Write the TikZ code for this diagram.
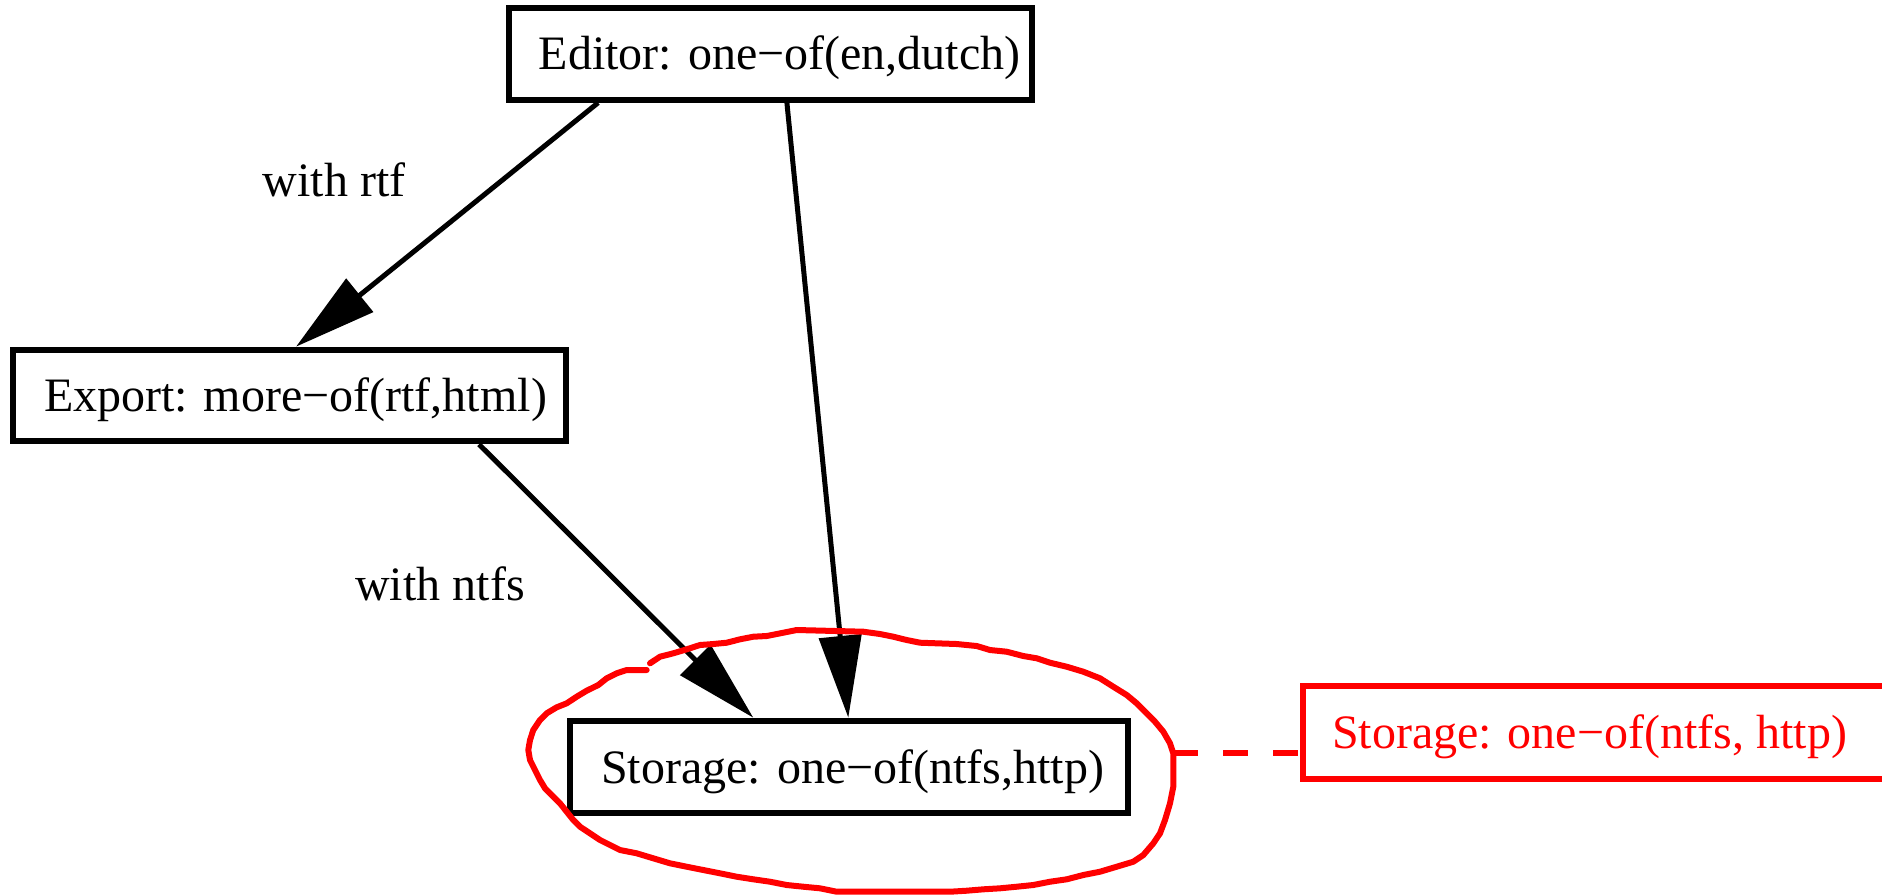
\documentclass[tikz,border=0pt]{standalone}
\usepackage{fontspec}
\setmainfont{Liberation Serif}
\usetikzlibrary{arrows.meta,calc}

\tikzset{
  diagfont/.style={font=\fontsize{24pt}{28pt}\selectfont},
  featbox/.style={draw=black, line width=3pt, inner xsep=0pt, inner ysep=0pt,
    text height=16pt, text depth=0pt, diagfont},
  notebox/.style={draw=red, text=red, line width=3pt, inner xsep=0pt, inner ysep=0pt,
    text height=16pt, text depth=0pt, diagfont},
  dep/.style={draw=black, line width=2.5pt, -{Triangle[length=41pt,width=21pt]}},
  edgelabel/.style={diagfont, inner sep=0pt},
  hull/.style={draw=red, line width=3pt, line join=round, line cap=round},
  notelink/.style={draw=red, line width=3pt, dash pattern=on 12.5pt off 12.5pt},
}
% fixed-width box content with a left indent
\newcommand{\padtext}[3]{\makebox[#1][l]{\hspace{#2}#3}}

\begin{document}
\begin{tikzpicture}[x=0.5pt,y=-0.5pt]
  \useasboundingbox (0,0) rectangle (1882,895);
  \clip (0,0) rectangle (1882,895);

  % feature boxes
  \node[featbox, minimum height=45.85pt] (editor) at (770.1,53.9)
    {\padtext{261.4pt}{15pt}{Editor: one−of(en,dutch)}};
  \node[featbox, minimum height=45.8pt] (export) at (289.5,395.5)
    {\padtext{276.5pt}{15.5pt}{Export: more−of(rtf,html)}};
  \node[featbox, minimum height=46.3pt] (storage) at (849.2,767)
    {\padtext{278.9pt}{15.5pt}{Storage: one−of(ntfs,http)}};

  % dependencies
  \draw[dep] ([xshift=46.2pt]editor.south west) -- ([xshift=143pt]export.north west);
  \draw[dep] ([xshift=140.6pt]editor.south west) -- ([xshift=140.5pt]storage.north west);
  \draw[dep] ([xshift=234.5pt]export.south west) -- ([xshift=93pt]storage.north west);

  % edge labels
  \node[edgelabel] (lblrtf) at (334,180) {with rtf};
  \node[edgelabel] (lblntfs) at (440,584) {with ntfs};

  % freehand outline around the storage box
  \draw[hull] (650,663.3) -- (660,656.7) -- (673.3,653.3) -- (686.7,649.3) -- (700,645)
    -- (713.3,644) -- (726.7,642.7) -- (740,639.3) -- (753.3,636.7) -- (766.7,636)
    -- (783.3,632.7) -- (796.7,630) -- (863.3,631.7) -- (880,634) -- (893.3,636.7)
    -- (906.7,640) -- (920,642.7) -- (936.7,643.3) -- (956.7,644) -- (976.7,646)
    -- (990,650) -- (1006.7,651.7) -- (1023.3,656) -- (1036.7,658.3) -- (1050,662.7)
    -- (1066.7,666.7) -- (1083.3,671.7) -- (1100,678.3) -- (1113.3,686.7) -- (1126.7,695)
    -- (1136.7,703.3) -- (1146.7,713.3) -- (1155,721.7) -- (1163.3,731.7) -- (1170,743.3)
    -- (1173.3,753.3) -- (1173.3,786.7) -- (1170,803.3) -- (1165,820) -- (1160,833.3)
    -- (1153.3,843.3) -- (1143.3,855) -- (1133.3,861.7) -- (1116.7,866.7) -- (1100,871.7)
    -- (1083.3,875) -- (1066.7,879.3) -- (1050,881.7) -- (1033.3,885) -- (1016.7,886.7)
    -- (1000,888.3) -- (983.3,889.3) -- (966.7,890.7) -- (950,891.7) -- (836.7,891.7)
    -- (820,888.3) -- (803.3,886.7) -- (786.7,885) -- (770,881.7) -- (753.3,879.3)
    -- (736.7,876.7) -- (720,873.3) -- (703.3,870) -- (686.7,866.7) -- (670,863.3)
    -- (653.3,858.3) -- (636.7,853.3) -- (620,850) -- (610,845) -- (600,840)
    -- (590,833.3) -- (580,826.7) -- (573.3,820) -- (566.7,811.7) -- (560,803.3)
    -- (553.3,796.7) -- (545,788.3) -- (540,780) -- (535,770) -- (530,760)
    -- (528.3,750) -- (530,740) -- (533.3,730) -- (540,720) -- (546.7,713.3)
    -- (556.7,707.3) -- (566.7,703.3) -- (576.7,696.7) -- (586.7,690.7) -- (598.3,685)
    -- (606.7,678.3) -- (616.7,673.3) -- (626.7,670) -- (646.7,670);
  \coordinate (hullE) at (1173.3,753);

  % annotation note
  \node[notebox, minimum height=46.5pt] (note) at (1613,732.5)
    {\padtext{310pt}{14.5pt}{Storage: one−of(ntfs, http)}};
  \draw[notelink] (hullE) -- (hullE -| note.west);
\end{tikzpicture}
\end{document}
